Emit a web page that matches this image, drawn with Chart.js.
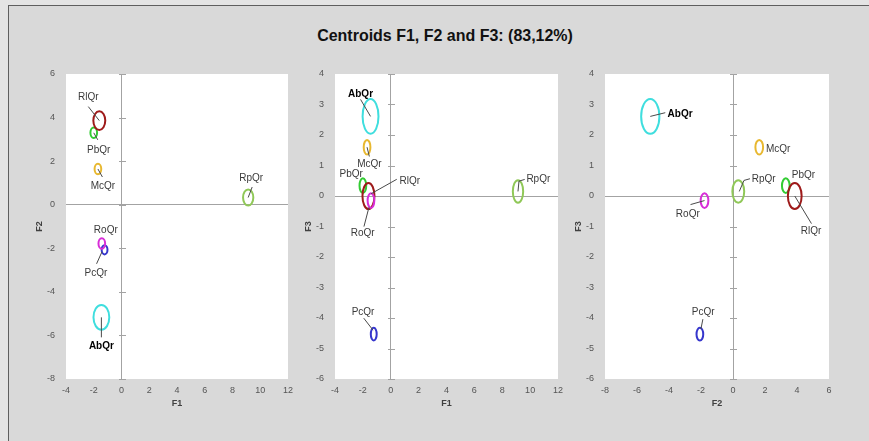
<!DOCTYPE html>
<html><head><meta charset="utf-8">
<script src="https://cdn.jsdelivr.net/npm/chart.js@4.4.1/dist/chart.umd.min.js"></script>
<style>
html,body{margin:0;padding:0;}
body{width:869px;height:441px;background:#e4e4e4;position:relative;overflow:hidden;font-family:"Liberation Sans",Arial,sans-serif;}
#frame{position:absolute;left:8px;top:5px;width:861px;height:436px;background:#d9d9d9;border-left:1px solid #5f5f5f;border-top:1px solid #5f5f5f;}
#title{position:absolute;left:0;top:26px;width:890px;text-align:center;}
#title span{display:inline-block;transform:scaleX(0.94);transform-origin:center;font:bold 17px/20px "Liberation Sans Narrow","Liberation Sans",Arial,sans-serif;color:#111;}
canvas{position:absolute;}
</style></head>
<body>
<div id="frame"></div>
<div id="title"><span>Centroids F1, F2 and F3: (83,12%)</span></div>
<canvas id="c1"></canvas><canvas id="c2"></canvas><canvas id="c3"></canvas>
<script>
// ---- data ----
const groups = ['AbQr', 'McQr', 'PbQr', 'PcQr', 'RlQr', 'RoQr', 'RpQr'];
const f1 = [-1.45, -1.70, -2.00, -1.22, -1.60, -1.42, 9.13];
const f2 = [-5.17, 1.64, 3.30, -2.07, 3.86, -1.78, 0.33];
const f3 = [2.61, 1.60, 0.34, -4.53, 0.00, -0.15, 0.15];
const radius = [0.57, 0.24, 0.24, 0.21, 0.43, 0.24, 0.37];
const colors = ['#3fdede', '#e8b830', '#33cc33', '#3636cc', '#9e1a1a', '#d82ed8', '#90c858'];
const boldLabel = ['AbQr'];

const rangeF1 = [-4, 12];
const rangeF2a = [-8, 6];
const rangeF2b = [-8, 6];
const rangeF3 = [-6, 4];

// ---- label placement (pixel offsets from the centroid) ----
const layout1 = {
  RlQr: {t: [-11, -23], a: 'center', l: [[0, 0], [-11, -14]]},
  PbQr: {t: [5, 17], a: 'center', l: [[0, 0], [4, 7]]},
  McQr: {t: [5, 17], a: 'center', l: [[0, 0], [4.5, 8]]},
  RpQr: {t: [3, -19], a: 'center', l: [[0, 0], [4, -10.5]]},
  RoQr: {t: [4, -13.5], a: 'center', l: null},
  PcQr: {t: [-8.6, 23.6], a: 'center', l: [[-2.6, 2], [-8, 14]]},
  AbQr: {t: [0, 29], a: 'center', l: [[0, 0], [0, 20]]}
};
const layout2 = {
  AbQr: {t: [-10, -22], a: 'center', l: [[0, 0], [-10, -17]]},
  McQr: {t: [2.3, 16.6], a: 'center', l: [[0, 0], [2.3, 9.3]]},
  PbQr: {t: [-11.7, -11.7], a: 'center', l: null},
  RlQr: {t: [31, -15], a: 'left', l: [[2.7, -2.3], [28.3, -16.7]]},
  RoQr: {t: [-8.3, 32.7], a: 'center', l: [[-2, 6.7], [-7, 26]]},
  RpQr: {t: [8.4, -12], a: 'left', l: [[0, 0], [1, -10.3], [6.7, -12]]},
  PcQr: {t: [-10.7, -22], a: 'center', l: [[-0.7, -4], [-10, -16]]}
};
const layout3 = {
  AbQr: {t: [17.3, -1.7], a: 'left', l: [[0, 0], [15, -3.7]]},
  McQr: {t: [6.7, 1.6], a: 'left', l: null},
  RpQr: {t: [13.4, -11.7], a: 'left', l: [[1, 0], [5.7, -11], [11.7, -12.7]]},
  PbQr: {t: [6, -10], a: 'left', l: null},
  RlQr: {t: [16.3, 35.3], a: 'center', l: [[0, 0], [16.7, 27.6]]},
  RoQr: {t: [-16.7, 14], a: 'center', l: [[0, 0], [-14, 4]]},
  PcQr: {t: [3.3, -22], a: 'center', l: [[3, -15], [1, -5]]}
};

const Y_W = 31.4, X_H = 30.4;
const tickFont = {family: 'Liberation Sans', size: 9};
const titleFont = {family: 'Liberation Sans', size: 9, weight: 'bold'};
const zeroCol = '#a3a3a3';

const panelPlugin = {
  id: 'panel',
  beforeDraw(chart) {
    const {ctx, chartArea: a} = chart;
    ctx.save();
    ctx.fillStyle = '#ffffff';
    ctx.fillRect(a.left, a.top, a.right - a.left, a.bottom - a.top);
    ctx.restore();
  },
  beforeDatasetsDraw(chart) {
    const {ctx, scales: {x, y}} = chart;
    const x0 = Math.round(x.getPixelForValue(0)) + 0.5;
    ctx.save();
    ctx.strokeStyle = zeroCol; ctx.lineWidth = 1;
    ctx.beginPath();
    y.ticks.forEach(t => {
      const py = Math.round(y.getPixelForValue(t.value)) + 0.5;
      ctx.moveTo(x0 - 3.5, py); ctx.lineTo(x0 + 3.5, py);
    });
    ctx.stroke();
    ctx.restore();
  },
  afterDatasetsDraw(chart) {
    const {ctx, scales: {x, y}} = chart;
    const ds = chart.data.datasets[0];
    const lay = chart.options.plugins.panel.layout;
    ctx.save();
    // ellipses
    ds.data.forEach((p, i) => {
      const cx = x.getPixelForValue(p.x), cy = y.getPixelForValue(p.y);
      const rx = Math.abs(x.getPixelForValue(p.x + radius[i]) - cx);
      const ry = Math.abs(y.getPixelForValue(p.y + radius[i]) - cy);
      ctx.beginPath();
      ctx.ellipse(cx, cy, rx, ry, 0, 0, Math.PI * 2);
      ctx.strokeStyle = colors[i]; ctx.lineWidth = 2;
      ctx.stroke();
    });
    // leaders + labels
    ds.data.forEach((p, i) => {
      const g = groups[i];
      const L = lay[g];
      const cx = x.getPixelForValue(p.x), cy = y.getPixelForValue(p.y);
      if (L.l) {
        ctx.beginPath();
        L.l.forEach((q, k) => { if (k === 0) ctx.moveTo(cx + q[0], cy + q[1]); else ctx.lineTo(cx + q[0], cy + q[1]); });
        ctx.strokeStyle = '#4a4a4a'; ctx.lineWidth = 1;
        ctx.stroke();
      }
      const b = boldLabel.includes(g);
      ctx.font = (b ? 'bold ' : '') + '10px "Liberation Sans"';
      ctx.fillStyle = b ? '#000000' : '#3a3a3a';
      ctx.textAlign = L.a; ctx.textBaseline = 'middle';
      ctx.fillText(g, cx + L.t[0], cy + L.t[1]);
    });
    ctx.restore();
  }
};

function makePanel(id, geo, xs, ys, xr, yr, xStep, yStep, xTitle, yTitle, lay) {
  const cv = document.getElementById(id);
  const W = geo.R - geo.L + 80, H = geo.B - geo.T + 70;
  cv.width = W; cv.height = H;
  cv.style.left = (geo.L - 60) + 'px'; cv.style.top = (geo.T - 20) + 'px';
  cv.style.width = W + 'px'; cv.style.height = H + 'px';
  const gridCol = c => (c.tick && c.tick.value === 0) ? zeroCol : 'rgba(0,0,0,0)';
  new Chart(cv, {
    type: 'scatter',
    data: {datasets: [{data: groups.map((g, i) => ({x: xs[i], y: ys[i]})), pointRadius: 0, pointHoverRadius: 0, showLine: false}]},
    options: {
      responsive: false, animation: false, devicePixelRatio: 1, events: [],
      layout: {padding: {left: 60 - Y_W, top: 20, right: 20, bottom: 50 - X_H}},
      plugins: {legend: {display: false}, tooltip: {enabled: false}, panel: {layout: lay}},
      scales: {
        x: {
          type: 'linear', min: xr[0], max: xr[1],
          ticks: {stepSize: xStep, padding: 6, font: tickFont, color: '#555555', maxRotation: 0, autoSkip: false},
          grid: {color: gridCol, drawTicks: false, lineWidth: 1},
          border: {display: false},
          title: {display: true, text: xTitle, font: titleFont, color: '#404040', padding: 0},
          afterFit: s => { s.height = X_H; }
        },
        y: {
          type: 'linear', min: yr[0], max: yr[1],
          ticks: {stepSize: yStep, padding: 11, font: tickFont, color: '#555555', autoSkip: false},
          grid: {color: gridCol, drawTicks: false, lineWidth: 1},
          border: {display: false},
          title: {display: true, text: yTitle, font: titleFont, color: '#404040', padding: 0},
          afterFit: s => { s.width = Y_W; }
        }
      }
    },
    plugins: [panelPlugin]
  });
}

makePanel('c1', {L: 66, T: 74, R: 288, B: 379}, f1, f2, rangeF1, rangeF2a, 2, 2, 'F1', 'F2', layout1);
makePanel('c2', {L: 335, T: 74, R: 558, B: 379}, f1, f3, rangeF1, rangeF3, 2, 1, 'F1', 'F3', layout2);
makePanel('c3', {L: 605, T: 74, R: 829, B: 379}, f2, f3, rangeF2b, rangeF3, 2, 1, 'F2', 'F3', layout3);
</script>
</body></html>
